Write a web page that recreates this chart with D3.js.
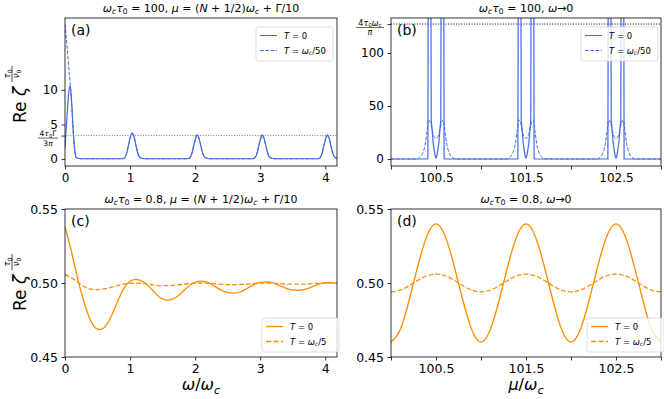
<!DOCTYPE html>
<html>
<head>
<meta charset="utf-8">
<script src="https://cdn.jsdelivr.net/npm/d3@7"></script>
<style>
body { margin: 0; background: #fff; }
svg { font-family: "DejaVu Sans", sans-serif; }
</style>
</head>
<body>
<div id="chart"></div>
<script>
// ---- data ----
// panel (a): omega_c tau_0 = 100, Re zeta vs omega/omega_c
var aX = [0, 0.02, 0.04, 0.06, 0.08, 0.10, 0.12, 0.14, 0.16, 0.18, 0.25,
  0.88, 0.92, 0.95, 0.98, 1.01, 1.03, 1.06, 1.09, 1.12, 1.16, 1.22,
  1.88, 1.92, 1.95, 1.98, 2.01, 2.03, 2.06, 2.09, 2.12, 2.16, 2.22,
  2.88, 2.92, 2.95, 2.98, 3.01, 3.03, 3.06, 3.09, 3.12, 3.16, 3.22,
  3.88, 3.92, 3.95, 3.98, 4.01, 4.03, 4.06, 4.09, 4.12, 4.16, 4.22];
var aSolid = [1.6, 4.5, 7.5, 9.8, 10.6, 8.5, 5.2, 2.2, 0.6, 0.15, 0.05,
  0.05, 0.2, 0.9, 2.2, 3.4, 3.8, 3.3, 2.0, 0.8, 0.15, 0.05,
  0.05, 0.2, 0.8, 2.0, 3.1, 3.5, 3.0, 1.8, 0.7, 0.15, 0.05,
  0.05, 0.2, 0.8, 2.0, 3.1, 3.5, 3.0, 1.8, 0.7, 0.15, 0.05,
  0.05, 0.2, 0.8, 2.0, 3.1, 3.5, 3.0, 1.8, 0.7, 0.15, 0.05];
var aDash = [19.5, 17.5, 15.3, 13.0, 10.8, 8.3, 5.0, 2.1, 0.6, 0.15, 0.05,
  0.05, 0.25, 0.95, 2.2, 3.3, 3.6, 3.2, 2.0, 0.85, 0.2, 0.05,
  0.05, 0.25, 0.85, 2.0, 3.0, 3.35, 2.9, 1.8, 0.75, 0.2, 0.05,
  0.05, 0.25, 0.85, 2.0, 3.0, 3.35, 2.9, 1.8, 0.75, 0.2, 0.05,
  0.05, 0.25, 0.85, 2.0, 3.0, 3.35, 2.9, 1.8, 0.75, 0.2, 0.05];
var aRef = 3.4;   // 4 tau0 Gamma / 3 pi

// panel (b): omega_c tau_0 = 100, omega -> 0, vs mu/omega_c
var bSolidX = [100.0,
  100.41, 100.413, 100.444, 100.447, 100.47, 100.49, 100.5, 100.51, 100.53, 100.553, 100.556, 100.587, 100.59,
  101.41, 101.413, 101.444, 101.447, 101.47, 101.49, 101.5, 101.51, 101.53, 101.553, 101.556, 101.587, 101.59,
  102.41, 102.413, 102.444, 102.447, 102.47, 102.49, 102.5, 102.51, 102.53, 102.553, 102.556, 102.587, 102.59,
  103.0];
var bSolid = [0,
  0, 140, 140, 37, 14, 3, 1, 3, 14, 37, 140, 140, 0,
  0, 140, 140, 37, 14, 3, 1, 3, 14, 37, 140, 140, 0,
  0, 140, 140, 37, 14, 3, 1, 3, 14, 37, 140, 140, 0,
  0];
var bDashX = [100.0,
  100.28, 100.32, 100.35, 100.38, 100.40, 100.42, 100.44, 100.47, 100.5, 100.53, 100.56, 100.58, 100.60, 100.62, 100.65, 100.68, 100.72,
  101.28, 101.32, 101.35, 101.38, 101.40, 101.42, 101.44, 101.47, 101.5, 101.53, 101.56, 101.58, 101.60, 101.62, 101.65, 101.68, 101.72,
  102.28, 102.32, 102.35, 102.38, 102.40, 102.42, 102.44, 102.47, 102.5, 102.53, 102.56, 102.58, 102.60, 102.62, 102.65, 102.68, 102.72,
  103.0];
var bDash = [0,
  0, 1.5, 5, 14, 26, 37, 34, 23, 19.5, 23, 34, 37, 26, 14, 5, 1.5, 0,
  0, 1.5, 5, 14, 26, 37, 34, 23, 19.5, 23, 34, 37, 26, 14, 5, 1.5, 0,
  0, 1.5, 5, 14, 26, 37, 34, 23, 19.5, 23, 34, 37, 26, 14, 5, 1.5, 0,
  0];
var bRef = 127.3; // 4 tau0 omega_c / pi

// panel (c): omega_c tau_0 = 0.8, vs omega/omega_c
var cX = [0, 0.1, 0.2, 0.3, 0.4, 0.5, 0.6, 0.7, 0.8, 0.9, 1.0, 1.1, 1.2, 1.3, 1.4, 1.5, 1.6, 1.7, 1.8, 1.9,
  2.0, 2.1, 2.2, 2.3, 2.4, 2.5, 2.6, 2.7, 2.8, 2.9, 3.0, 3.1, 3.2, 3.3, 3.4, 3.5, 3.6, 3.7, 3.8, 3.9,
  4.0, 4.1, 4.2];
var cSolid = [0.538, 0.521, 0.502, 0.486, 0.474, 0.4688, 0.4698, 0.4765, 0.4865, 0.4960,
  0.5012, 0.5024, 0.5008, 0.4972, 0.4925, 0.4892, 0.4885, 0.4902, 0.4938, 0.4978,
  0.5005, 0.5013, 0.5002, 0.4977, 0.4952, 0.4936, 0.4932, 0.4941, 0.4964, 0.4989,
  0.5004, 0.5008, 0.5000, 0.4982, 0.4964, 0.4953, 0.4951, 0.4958, 0.4975, 0.4992,
  0.5001, 0.5003, 0.4998];
var cDash = [0.5058, 0.5035, 0.5005, 0.4975, 0.4958, 0.4955, 0.496, 0.497, 0.4982, 0.4992,
  0.4998, 0.4999, 0.4997, 0.4991, 0.4985, 0.4982, 0.4983, 0.4986, 0.499, 0.4995,
  0.4999, 0.5, 0.4999, 0.4995, 0.4991, 0.4989, 0.4988, 0.499, 0.4993, 0.4997,
  0.4999, 0.5, 0.4999, 0.4996, 0.4993, 0.4992, 0.4992, 0.4993, 0.4996, 0.4998,
  0.5, 0.5, 0.4999];

// panel (d): omega_c tau_0 = 0.8, omega -> 0, vs mu/omega_c
var dX = [100.0, 100.1, 100.2, 100.3, 100.4, 100.5, 100.6, 100.7, 100.8, 100.9,
  101.0, 101.1, 101.2, 101.3, 101.4, 101.5, 101.6, 101.7, 101.8, 101.9,
  102.0, 102.1, 102.2, 102.3, 102.4, 102.5, 102.6, 102.7, 102.8, 102.9, 103.0];
var dSolid = [0.460, 0.468, 0.488, 0.512, 0.532, 0.540, 0.532, 0.512, 0.488, 0.468,
  0.460, 0.468, 0.488, 0.512, 0.532, 0.540, 0.532, 0.512, 0.488, 0.468,
  0.460, 0.468, 0.488, 0.512, 0.532, 0.540, 0.532, 0.512, 0.488, 0.468, 0.460];
var dDash = [0.494, 0.4951, 0.4981, 0.5019, 0.5049, 0.506, 0.5049, 0.5019, 0.4981, 0.4951,
  0.494, 0.4951, 0.4981, 0.5019, 0.5049, 0.506, 0.5049, 0.5019, 0.4981, 0.4951,
  0.494, 0.4951, 0.4981, 0.5019, 0.5049, 0.506, 0.5049, 0.5019, 0.4981, 0.4951, 0.494];

var blue = "#4169e1";
var orange = "#ff8c00";

var svg = d3.select("#chart").append("svg")
  .attr("width", 664)
  .attr("height", 399);

// text with italic / subscript pieces, parts = [[str, flags]], flags: "i" italic, "_" subscript
function mathText(text, parts, size) {
  var shift = 0;
  parts.forEach(function(p) {
    var ts = text.append("tspan").text(p[0]);
    var sub = p[1].indexOf("_") >= 0;
    if (p[1].indexOf("i") >= 0) ts.style("font-style", "italic");
    if (sub) ts.style("font-size", (size * 0.7) + "px");
    var target = sub ? size * 0.22 : 0;
    if (target !== shift) ts.attr("dy", target - shift);
    shift = target;
  });
  return text;
}

// one set of axes
function makePanel(o) {
  var x = d3.scaleLinear().domain(o.xDomain).range([o.left, o.right]);
  var y = d3.scaleLinear().domain(o.yDomain).range([o.bottom, o.top]);
  var g = svg.append("g");
  var id = "clip" + o.name;
  svg.append("clipPath").attr("id", id).append("rect")
    .attr("x", o.left).attr("y", o.top)
    .attr("width", o.right - o.left).attr("height", o.bottom - o.top);
  var plot = g.append("g").attr("clip-path", "url(#" + id + ")");

  var xAxis = g.append("g")
    .attr("transform", "translate(0," + o.bottom + ")")
    .call(d3.axisBottom(x).tickValues(o.xTicks).tickSize(3.5).tickPadding(3.5)
      .tickFormat(o.xFormat));
  var yAxis = g.append("g")
    .attr("transform", "translate(" + o.left + ",0)")
    .call(d3.axisLeft(y).tickValues(o.yTicks).tickSize(3.5).tickPadding(3.5)
      .tickFormat(o.yFormat));
  [xAxis, yAxis].forEach(function(ax) {
    ax.select(".domain").remove();
    ax.selectAll(".tick line").attr("stroke", "#000").attr("stroke-width", 0.8);
    ax.selectAll(".tick text").attr("fill", "#000")
      .style("font-family", "DejaVu Sans").style("font-size", o.tickSize + "px");
  });

  // frame
  g.append("rect")
    .attr("x", o.left).attr("y", o.top)
    .attr("width", o.right - o.left).attr("height", o.bottom - o.top)
    .attr("fill", "none").attr("stroke", "#000").attr("stroke-width", 0.8);

  // title
  mathText(g.append("text")
    .attr("x", (o.left + o.right) / 2).attr("y", o.top - 6)
    .attr("text-anchor", "middle")
    .style("font-size", "11px"), o.title, 11);

  // panel label
  g.append("text")
    .attr("x", o.left + 6).attr("y", o.top + 17)
    .style("font-size", "14px")
    .text(o.label);

  return { x: x, y: y, g: g, plot: plot };
}

function drawLine(p, xs, ys, color, dashed, width, curve) {
  var pts = xs.map(function(v, i) { return [v, ys[i]]; });
  p.plot.append("path")
    .datum(pts)
    .attr("fill", "none")
    .attr("stroke", color)
    .attr("stroke-width", width)
    .attr("stroke-dasharray", dashed ? (3.7 * width) + "," + (1.6 * width) : null)
    .attr("d", d3.line()
      .x(function(d) { return p.x(d[0]); })
      .y(function(d) { return p.y(d[1]); })
      .curve(curve)(pts));
}

function drawLegend(bx, by, color, width, entries) {
  var lg = svg.append("g");
  lg.append("rect")
    .attr("x", bx).attr("y", by).attr("width", 77).attr("height", 34)
    .attr("rx", 2.5)
    .attr("fill", "#fff").attr("fill-opacity", 0.8)
    .attr("stroke", "#d6d6d6").attr("stroke-width", 0.8);
  entries.forEach(function(e, i) {
    var yy = by + 8.5 + i * 15;
    lg.append("line")
      .attr("x1", bx + 4).attr("x2", bx + 21)
      .attr("y1", yy).attr("y2", yy)
      .attr("stroke", color).attr("stroke-width", width)
      .attr("stroke-dasharray", e.dashed ? (3.7 * width) + "," + (1.6 * width) : null);
    mathText(lg.append("text")
      .attr("x", bx + 28).attr("y", yy + 3)
      .style("font-size", "8.5px"), e.parts, 8.5);
  });
}

var muTicks = [100, 100.5, 101, 101.5, 102, 102.5, 103];
var muFormat = function(d) { return (Math.round(d * 10) % 10 === 5) ? d.toFixed(1) : ""; };

var titleTop1 = [["ω", "i"], ["c", "i_"], ["τ", "i"], ["0", "_"], [" = 100, ", ""], ["μ", "i"],
  [" = (", ""], ["N", "i"], [" + 1/2)", ""], ["ω", "i"], ["c", "i_"], [" + Γ/10", ""]];
var titleTop2 = [["ω", "i"], ["c", "i_"], ["τ", "i"], ["0", "_"], [" = 100, ", ""], ["ω", "i"], ["→0", ""]];
var titleBot1 = [["ω", "i"], ["c", "i_"], ["τ", "i"], ["0", "_"], [" = 0.8, ", ""], ["μ", "i"],
  [" = (", ""], ["N", "i"], [" + 1/2)", ""], ["ω", "i"], ["c", "i_"], [" + Γ/10", ""]];
var titleBot2 = [["ω", "i"], ["c", "i_"], ["τ", "i"], ["0", "_"], [" = 0.8, ", ""], ["ω", "i"], ["→0", ""]];

// ---- (a) ----
var pa = makePanel({
  name: "a", left: 65, right: 337, top: 18, bottom: 166,
  xDomain: [0, 4.18], yDomain: [-1.0, 20.4],
  xTicks: [0, 1, 2, 3, 4], xFormat: d3.format("d"),
  yTicks: [0, 5, 10, aRef], yFormat: function(d) { return d === aRef ? "" : d; },
  tickSize: 12, title: titleTop1, label: "(a)"
});
pa.plot.append("line")
  .attr("x1", pa.x(0)).attr("x2", pa.x(4.18))
  .attr("y1", pa.y(aRef)).attr("y2", pa.y(aRef))
  .attr("stroke", "#777").attr("stroke-width", 1).attr("stroke-dasharray", "1,1.6");
drawLine(pa, aX, aSolid, blue, false, 1.2, d3.curveMonotoneX);
drawLine(pa, aX, aDash, blue, true, 1.0, d3.curveMonotoneX);
// fraction tick label 4 tau0 Gamma / 3 pi
var fa = pa.g.append("g").style("font-size", "7.5px");
mathText(fa.append("text").attr("x", 48).attr("y", pa.y(aRef) + 0.5).attr("text-anchor", "middle"),
  [["4", ""], ["τ", "i"], ["0", "_"], ["Γ", ""]], 7.5);
fa.append("line").attr("x1", 38).attr("x2", 58)
  .attr("y1", pa.y(aRef) + 2.5).attr("y2", pa.y(aRef) + 2.5)
  .attr("stroke", "#000").attr("stroke-width", 0.6);
mathText(fa.append("text").attr("x", 48).attr("y", pa.y(aRef) + 10.5).attr("text-anchor", "middle"),
  [["3", ""], ["π", "i"]], 7.5);
drawLegend(256, 27, blue, 1.0, [
  { parts: [["T", "i"], [" = 0", ""]], dashed: false },
  { parts: [["T", "i"], [" = ", ""], ["ω", "i"], ["c", "i_"], ["/50", ""]], dashed: true }
]);

// ---- (b) ----
var pb = makePanel({
  name: "b", left: 391, right: 661, top: 18, bottom: 166,
  xDomain: [100, 103], yDomain: [-6.6, 133],
  xTicks: muTicks, xFormat: muFormat,
  yTicks: [0, 50, 100, bRef], yFormat: function(d) { return d === bRef ? "" : d; },
  tickSize: 12, title: titleTop2, label: "(b)"
});
pb.plot.append("line")
  .attr("x1", pb.x(100)).attr("x2", pb.x(103))
  .attr("y1", pb.y(bRef)).attr("y2", pb.y(bRef))
  .attr("stroke", "#000").attr("stroke-width", 1).attr("stroke-dasharray", "1,1.6");
drawLine(pb, bSolidX, bSolid, blue, false, 1.2, d3.curveLinear);
drawLine(pb, bDashX, bDash, blue, true, 1.0, d3.curveMonotoneX);
var fb = pb.g.append("g").style("font-size", "8px");
mathText(fb.append("text").attr("x", 370).attr("y", pb.y(bRef) + 1.5).attr("text-anchor", "middle"),
  [["4", ""], ["τ", "i"], ["0", "_"], ["ω", "i"], ["c", "i_"]], 8);
fb.append("line").attr("x1", 356).attr("x2", 384)
  .attr("y1", pb.y(bRef) + 3.5).attr("y2", pb.y(bRef) + 3.5)
  .attr("stroke", "#000").attr("stroke-width", 0.6);
fb.append("text").attr("x", 370).attr("y", pb.y(bRef) + 10.5).attr("text-anchor", "middle")
  .style("font-style", "italic").text("π");
drawLegend(581, 27, blue, 1.0, [
  { parts: [["T", "i"], [" = 0", ""]], dashed: false },
  { parts: [["T", "i"], [" = ", ""], ["ω", "i"], ["c", "i_"], ["/50", ""]], dashed: true }
]);

// ---- (c) ----
var pc = makePanel({
  name: "c", left: 65, right: 337, top: 209, bottom: 357,
  xDomain: [0, 4.18], yDomain: [0.45, 0.55],
  xTicks: [0, 1, 2, 3, 4], xFormat: d3.format("d"),
  yTicks: [0.45, 0.50, 0.55], yFormat: d3.format(".2f"),
  tickSize: 12.5, title: titleBot1, label: "(c)"
});
drawLine(pc, cX, cSolid, orange, false, 1.3, d3.curveNatural);
drawLine(pc, cX, cDash, orange, true, 1.3, d3.curveNatural);
drawLegend(262, 318, orange, 1.4, [
  { parts: [["T", "i"], [" = 0", ""]], dashed: false },
  { parts: [["T", "i"], [" = ", ""], ["ω", "i"], ["c", "i_"], ["/5", ""]], dashed: true }
]);

// ---- (d) ----
var pd = makePanel({
  name: "d", left: 391, right: 661, top: 209, bottom: 357,
  xDomain: [100, 103], yDomain: [0.45, 0.55],
  xTicks: muTicks, xFormat: muFormat,
  yTicks: [0.45, 0.50, 0.55], yFormat: d3.format(".2f"),
  tickSize: 12.5, title: titleBot2, label: "(d)"
});
drawLine(pd, dX, dSolid, orange, false, 1.3, d3.curveNatural);
drawLine(pd, dX, dDash, orange, true, 1.3, d3.curveNatural);
drawLegend(587, 318, orange, 1.4, [
  { parts: [["T", "i"], [" = 0", ""]], dashed: false },
  { parts: [["T", "i"], [" = ", ""], ["ω", "i"], ["c", "i_"], ["/5", ""]], dashed: true }
]);

// ---- axis labels ----
function yLabel(cx, cy) {
  var lab = svg.append("g").attr("transform", "translate(" + cx + "," + cy + ") rotate(-90)");
  var t = lab.append("text").attr("x", -30).attr("y", 0).style("font-size", "17px");
  t.append("tspan").text("Re ");
  t.append("tspan").style("font-style", "italic").text("ζ");
  mathText(lab.append("text").attr("x", 19).attr("y", -16).attr("text-anchor", "middle")
    .style("font-size", "8.5px"), [["τ", "i"], ["0", "_"]], 8.5);
  lab.append("line").attr("x1", 11).attr("x2", 27).attr("y1", -14).attr("y2", -14)
    .attr("stroke", "#000").attr("stroke-width", 0.7);
  mathText(lab.append("text").attr("x", 19).attr("y", -7).attr("text-anchor", "middle")
    .style("font-size", "8.5px"), [["ν", "i"], ["0", "_"]], 8.5);
}
yLabel(26, 93);
yLabel(26, 281);

mathText(svg.append("text").attr("x", 201).attr("y", 390).attr("text-anchor", "middle")
  .style("font-size", "16px"), [["ω", "i"], ["/", ""], ["ω", "i"], ["c", "i_"]], 16);
mathText(svg.append("text").attr("x", 526).attr("y", 390).attr("text-anchor", "middle")
  .style("font-size", "16px"), [["μ", "i"], ["/", ""], ["ω", "i"], ["c", "i_"]], 16);
</script>
</body>
</html>
